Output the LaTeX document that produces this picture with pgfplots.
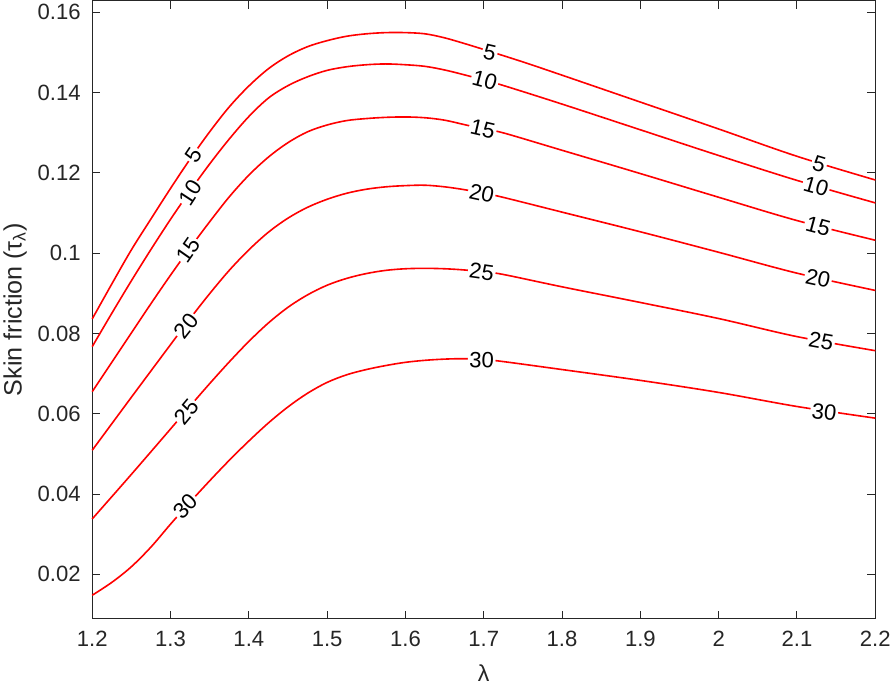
\documentclass[border=0pt]{standalone}
\usepackage{fontspec}
\setmainfont{Liberation Sans}
\usepackage{pgfplots}
\pgfplotsset{compat=1.18}
\definecolor{axgray}{HTML}{262626}
\tikzset{lbl/.style={fill=white, inner sep=1.5pt, text=black, font=\fontsize{22}{26}\selectfont}}
\pgfplotsset{cont/.style={red, line width=1.6pt, smooth, tension=0.55, no marks}}

\begin{document}
\begin{tikzpicture}
\begin{axis}[
  scale only axis,
  width=780pt, height=616pt,
  xmin=1.2, xmax=2.2,
  ymin=0.0089, ymax=0.1629,
  xtick={1.2,1.3,...,2.2},
  ytick={0.02,0.04,...,0.16},
  axis line style={axgray, line width=1pt},
  tick style={axgray, line width=1pt},
  major tick length=8pt,
  tick align=inside,
  /pgf/number format/assume math mode=true,
  /pgf/number format/fixed,
  /pgf/number format/precision=2,
  tick label style={font=\fontsize{22}{26}\selectfont, color=axgray},
  xticklabel style={yshift=-9pt},
  yticklabel style={xshift=-8pt},
  xlabel style={font=\fontsize{23}{27}\selectfont, color=axgray, yshift=-11pt},
  ylabel style={font=\fontsize{25}{29}\selectfont, color=axgray, yshift=4pt},
  xlabel={λ},
  ylabel={Skin friction (τ\textsubscript{λ})},
  clip=false,
]
% level 5
\addplot[cont] coordinates {(1.2,0.0836) (1.225,0.0923) (1.25,0.1008) (1.275,0.1085) (1.30,0.1161) (1.325,0.1234) (1.35,0.1302) (1.375,0.1364) (1.40,0.1416) (1.425,0.1459) (1.45,0.1491) (1.475,0.1514) (1.50,0.1529) (1.525,0.1540) (1.55,0.1546) (1.575,0.1549) (1.60,0.1549) (1.625,0.1546) (1.65,0.1536) (1.675,0.1522) (1.70,0.1507) (1.75,0.1476) (1.80,0.1443) (1.90,0.1376) (2.00,0.1309) (2.10,0.1241) (2.20,0.1182)};
% level 10
\addplot[cont] coordinates {(1.2,0.0767) (1.225,0.0850) (1.25,0.0931) (1.275,0.1009) (1.30,0.1084) (1.325,0.1155) (1.35,0.1222) (1.375,0.1284) (1.40,0.1340) (1.425,0.1386) (1.45,0.1417) (1.475,0.1439) (1.50,0.1455) (1.525,0.1464) (1.55,0.1469) (1.575,0.1471) (1.60,0.1469) (1.625,0.1465) (1.65,0.1456) (1.675,0.1444) (1.70,0.1431) (1.7256,0.1417) (1.80,0.1371) (1.90,0.1307) (2.00,0.1243) (2.10,0.1181) (2.20,0.1125)};
% level 15
\addplot[cont] coordinates {(1.2,0.0655) (1.225,0.0728) (1.25,0.0801) (1.275,0.0874) (1.30,0.0945) (1.325,0.1013) (1.35,0.1078) (1.375,0.1140) (1.40,0.1194) (1.425,0.1239) (1.45,0.1275) (1.475,0.1302) (1.50,0.1319) (1.525,0.1330) (1.55,0.1335) (1.575,0.1338) (1.60,0.1339) (1.625,0.1337) (1.65,0.1331) (1.675,0.1320) (1.70,0.1309) (1.7256,0.1299) (1.80,0.1256) (1.90,0.1198) (2.00,0.1139) (2.10,0.1081) (2.20,0.1032)};
% level 20
\addplot[cont] coordinates {(1.2,0.0509) (1.25,0.0641) (1.30,0.0772) (1.325,0.0837) (1.35,0.0899) (1.375,0.0957) (1.40,0.1008) (1.425,0.1052) (1.45,0.1087) (1.475,0.1114) (1.50,0.1134) (1.525,0.1149) (1.55,0.1159) (1.575,0.1165) (1.60,0.1168) (1.625,0.1169) (1.65,0.1165) (1.675,0.1158) (1.70,0.1149) (1.7244,0.1139) (1.80,0.1102) (1.90,0.1053) (2.00,0.1002) (2.10,0.0950) (2.20,0.0907)};
% level 25
\addplot[cont] coordinates {(1.2,0.0338) (1.25,0.0449) (1.30,0.0562) (1.325,0.0619) (1.35,0.0675) (1.375,0.0729) (1.40,0.0780) (1.425,0.0826) (1.45,0.0865) (1.475,0.0896) (1.50,0.0920) (1.525,0.0937) (1.55,0.0949) (1.575,0.0957) (1.60,0.0961) (1.625,0.0962) (1.65,0.0961) (1.675,0.0958) (1.70,0.0953) (1.7244,0.0947) (1.80,0.0916) (1.90,0.0877) (2.00,0.0837) (2.10,0.0792) (2.20,0.0757)};
% level 30
\addplot[cont] coordinates {(1.2,0.0148) (1.225,0.0180) (1.25,0.0219) (1.275,0.0268) (1.30,0.0325) (1.325,0.0380) (1.35,0.0433) (1.375,0.0484) (1.40,0.0532) (1.425,0.0577) (1.45,0.0617) (1.475,0.0651) (1.50,0.0678) (1.525,0.0697) (1.55,0.0710) (1.575,0.0720) (1.60,0.0728) (1.625,0.0733) (1.65,0.0736) (1.675,0.0737) (1.70,0.0735) (1.7244,0.0730) (1.80,0.0710) (1.90,0.0683) (2.00,0.0653) (2.10,0.0618) (2.20,0.0589)};

% contour labels
\node[lbl, rotate=56] at (axis cs:1.3295,0.1244) {5};
\node[lbl, rotate=-13] at (axis cs:1.7077,0.1499) {5};
\node[lbl, rotate=-17] at (axis cs:2.1282,0.1222) {5};
\node[lbl, rotate=57] at (axis cs:1.3256,0.1150) {10};
\node[lbl, rotate=-15] at (axis cs:1.7013,0.1430) {10};
\node[lbl, rotate=-16] at (axis cs:2.1244,0.1166) {10};
\node[lbl, rotate=55] at (axis cs:1.3231,0.1007) {15};
\node[lbl, rotate=-13] at (axis cs:1.6987,0.1309) {15};
\node[lbl, rotate=-15] at (axis cs:2.1269,0.1067) {15};
\node[lbl, rotate=52] at (axis cs:1.3205,0.0819) {20};
\node[lbl, rotate=-12] at (axis cs:1.6974,0.1149) {20};
\node[lbl, rotate=-12] at (axis cs:2.1269,0.0937) {20};
\node[lbl, rotate=50] at (axis cs:1.3205,0.0605) {25};
\node[lbl, rotate=-8] at (axis cs:1.6974,0.0953) {25};
\node[lbl, rotate=-10] at (axis cs:2.1308,0.0781) {25};
\node[lbl, rotate=45] at (axis cs:1.3192,0.0370) {30};
\node[lbl, rotate=-2] at (axis cs:1.6974,0.0734) {30};
\node[lbl, rotate=-6] at (axis cs:2.1346,0.0604) {30};
\end{axis}
\end{tikzpicture}
\end{document}
